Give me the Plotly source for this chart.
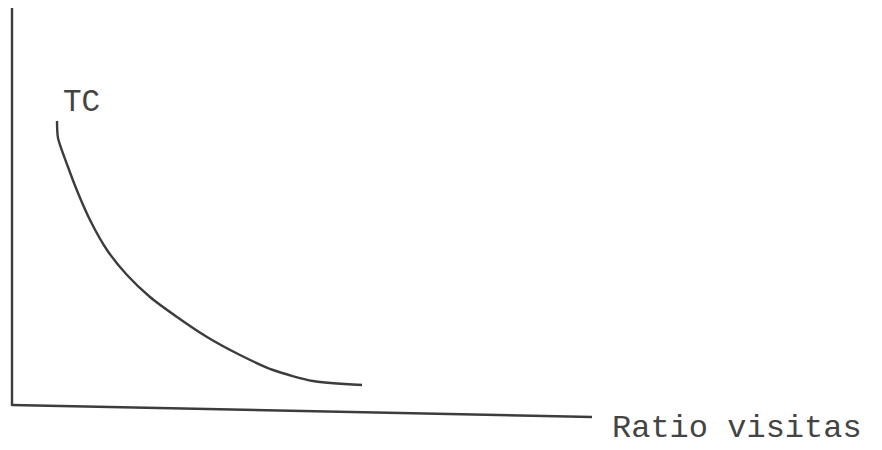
import plotly.graph_objects as go

# Curve "TC" (arbitrary units)
curve_x = [45, 46, 56, 66, 78, 95, 115, 138, 165, 195, 228, 261, 301, 350]
curve_y = [284, 267, 238, 212, 185, 155, 130, 108, 88, 68, 50, 35, 24, 20]
curve_label = "TC"
x_axis_label = "Ratio visitas"

ink = "#3c3c3c"
fig = go.Figure()
fig.add_trace(go.Scatter(
    x=curve_x, y=curve_y, mode="lines",
    line=dict(color=ink, width=2.4, shape="spline", smoothing=0.7),
    showlegend=False, hoverinfo="skip",
))

# hand-drawn axes
fig.add_shape(type="line", x0=0, y0=-1, x1=0, y1=400,
              line=dict(color=ink, width=2.4), xref="x", yref="y")
fig.add_shape(type="line", x0=0, y0=0, x1=580, y1=-12,
              line=dict(color=ink, width=2.4), xref="x", yref="y")

fig.add_annotation(x=598, y=-23, text=x_axis_label, showarrow=False,
                   xanchor="left", yanchor="middle",
                   font=dict(family="Liberation Mono", size=32, color="#444"))
fig.add_annotation(x=49, y=303, text=curve_label, showarrow=False,
                   xanchor="left", yanchor="middle",
                   font=dict(family="Liberation Mono", size=31, color="#444"))

fig.update_layout(
    width=874, height=442,
    margin=dict(l=0, r=0, t=0, b=0),
    paper_bgcolor="white", plot_bgcolor="white",
    xaxis=dict(range=[-4, 870], visible=False, fixedrange=True),
    yaxis=dict(range=[-45, 397], visible=False, fixedrange=True),
)
fig.write_html("out.html")
